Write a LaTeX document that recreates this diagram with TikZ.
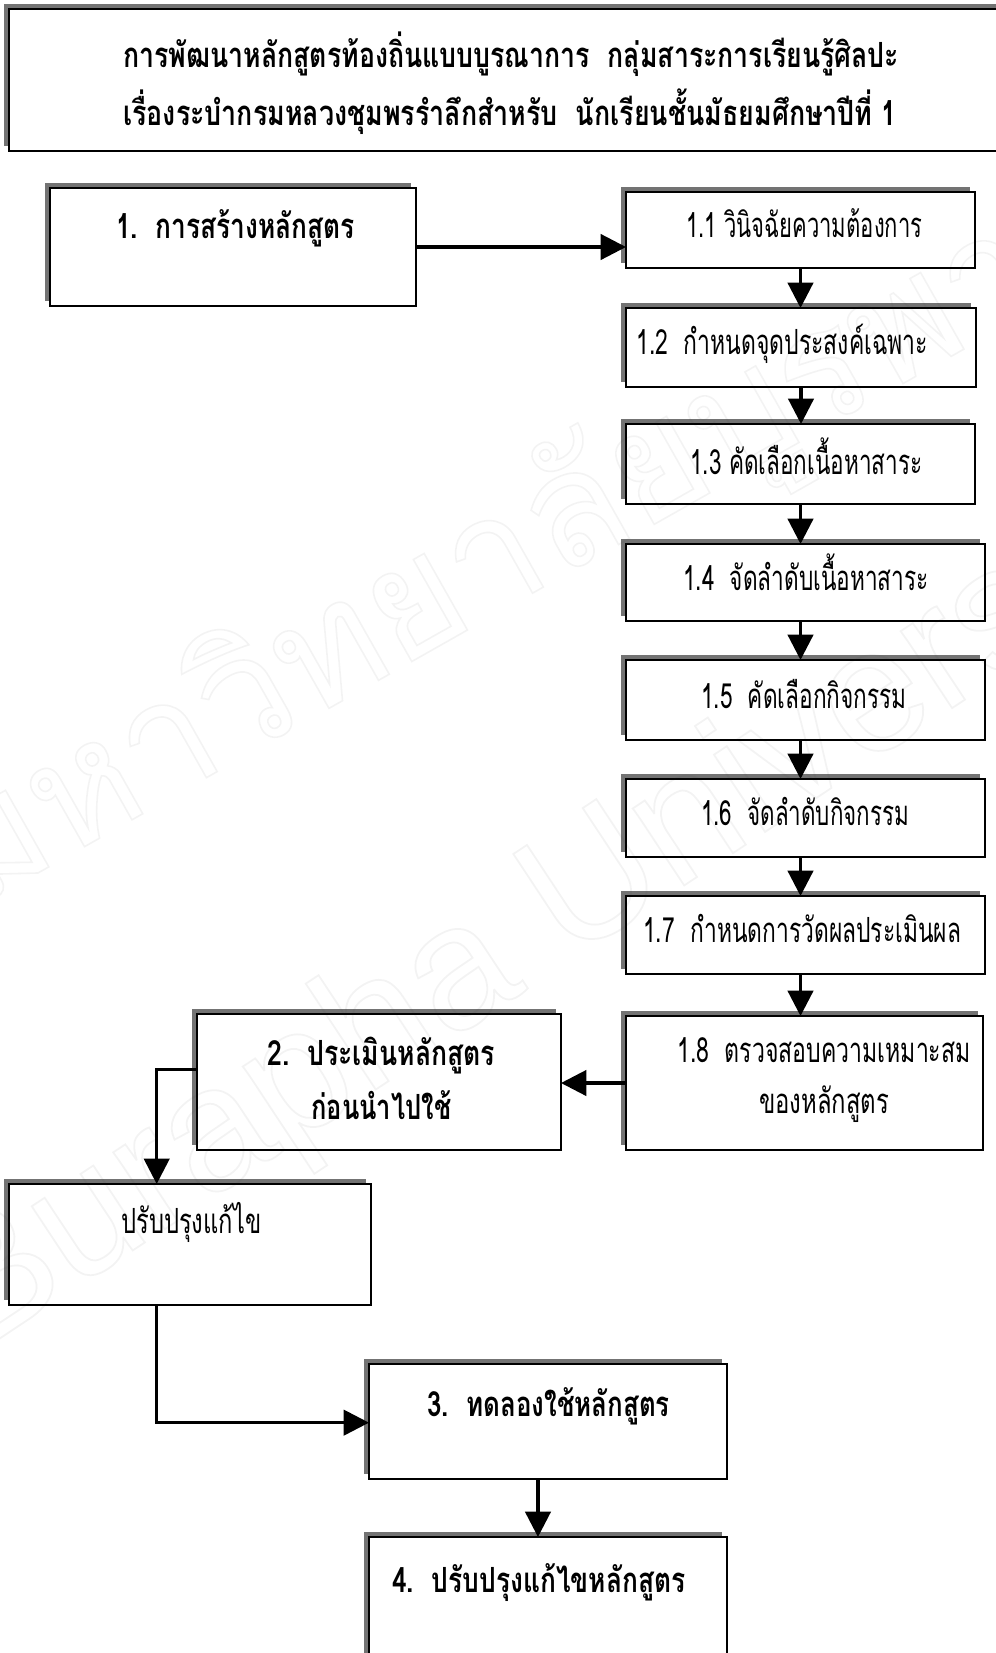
\documentclass[tikz,border=0pt]{standalone}
\usepackage{fontspec}
\usepackage{graphicx}
\usetikzlibrary{arrows.meta,shadows,calc}
\newfontfamily\thai[Script=Thai]{Loma}
\newfontfamily\wmthai[Script=Thai]{Loma}
\newfontfamily\wmlat{Liberation Sans}
\newcommand\tw[2]{\resizebox{#1}{\height}{#2}}
\newcommand\outl[1]{\special{pdf:literal direct 1 Tr 1.0 w 0.15 G}#1\special{pdf:literal direct 0 Tr 0 G}}
\begin{document}
\begin{tikzpicture}[x=0.75pt,y=-0.75pt,
  box/.style={draw, line width=1.3pt, fill=white, inner sep=0pt, outer sep=0pt, anchor=north west,
    drop shadow={shadow xshift=-3.75pt, shadow yshift=3.75pt, fill=black!55, opacity=1}},
  tx/.style={inner sep=0pt, anchor=base west, font=\thai\fontsize{26}{30}\selectfont},
  arr/.style={line width=2.4pt, -{Triangle[length=19pt,width=19pt]}},
  wm/.style={inner sep=0pt, text=black, text opacity=0.05}]
\useasboundingbox (0,0) rectangle (996,1653);
\fill[white] (0,0) rectangle (996,1653);
% boxes
\node[box, minimum width=745.5pt, minimum height=106.5pt] (title) at (9,9) {};
\node[box, minimum width=274.5pt, minimum height=88.5pt] (b1) at (50,188) {};
\node[box, minimum width=261.75pt, minimum height=57pt] (b11) at (626,192) {};
\node[box, minimum width=262.5pt, minimum height=59.25pt] (b12) at (626,308) {};
\node[box, minimum width=261.75pt, minimum height=60pt] (b13) at (626,424) {};
\node[box, minimum width=269.25pt, minimum height=57.75pt] (b14) at (626,544) {};
\node[box, minimum width=269.25pt, minimum height=60pt] (b15) at (626,660) {};
\node[box, minimum width=269.25pt, minimum height=58.5pt] (b16) at (626,779) {};
\node[box, minimum width=269.25pt, minimum height=58.5pt] (b17) at (626,896) {};
\node[box, minimum width=267.75pt, minimum height=100.5pt] (b18) at (626,1016) {};
\node[box, minimum width=273pt, minimum height=102pt] (b2) at (197,1014) {};
\node[box, minimum width=271.5pt, minimum height=90.75pt] (bfix) at (9,1184) {};
\node[box, minimum width=268.5pt, minimum height=86.25pt] (b3) at (369,1364) {};
\node[box, minimum width=268.5pt, minimum height=107.25pt] (b4) at (369,1537) {};
% texts
\node[tx] (t0a) at (123,67) {\tw{582pt}{\bfseries การพัฒนาหลักสูตรท้องถิ่นแบบบูรณาการ~~กลุ่มสาระการเรียนรู้ศิลปะ}};
\node[tx] (t0b) at (123,125) {\tw{580pt}{\bfseries เรื่องระบำกรมหลวงชุมพรรำลึกสำหรับ~~นักเรียนชั้นมัธยมศึกษาปีที่ 1}};
\node[tx] (t1) at (116,238) {\tw{179pt}{\bfseries 1.~~การสร้างหลักสูตร}};
\node[tx] (t11) at (686,237) {\tw{177pt}{1.1 วินิจฉัยความต้องการ}};
\node[tx] (t12) at (636,354) {\tw{219pt}{1.2~~กำหนดจุดประสงค์เฉพาะ}};
\node[tx] (t13) at (690,474) {\tw{174pt}{1.3 คัดเลือกเนื้อหาสาระ}};
\node[tx] (t14) at (683,590) {\tw{184pt}{1.4~~จัดลำดับเนื้อหาสาระ}};
\node[tx] (t15) at (701,708) {\tw{154pt}{1.5~~คัดเลือกกิจกรรม}};
\node[tx] (t16) at (701,825) {\tw{156pt}{1.6~~จัดลำดับกิจกรรม}};
\node[tx] (t17) at (643,942) {\tw{238.5pt}{1.7~~กำหนดการวัดผลประเมินผล}};
\node[tx] (t18a) at (677,1062) {\tw{220pt}{1.8~~ตรวจสอบความเหมาะสม}};
\node[tx] (t18b) at (759,1113) {\tw{97.5pt}{ของหลักสูตร}};
\node[tx] (t2a) at (267,1065) {\tw{171pt}{\bfseries 2.~~ประเมินหลักสูตร}};
\node[tx] (t2b) at (311,1119) {\tw{105pt}{\bfseries ก่อนนำไปใช้}};
\node[tx] (tfix) at (121,1233) {\tw{105pt}{ปรับปรุงแก้ไข}};
\node[tx] (t3) at (427,1416) {\tw{182pt}{\bfseries 3.~~ทดลองใช้หลักสูตร}};
\node[tx] (t4) at (392,1592) {\tw{220pt}{\bfseries 4.~~ปรับปรุงแก้ไขหลักสูตร}};
% connectors
\draw[arr] (b1.east) -- (b1.east -| b11.west);
\draw[arr] (b11.south) -- (b11.south |- b12.north);
\draw[arr] (b12.south) -- (b12.south |- b13.north);
\draw[arr] (b13.south) -- (b13.south |- b14.north);
\draw[arr] (b13.south |- b14.south) -- (b13.south |- b15.north);
\draw[arr] (b13.south |- b15.south) -- (b13.south |- b16.north);
\draw[arr] (b13.south |- b16.south) -- (b13.south |- b17.north);
\draw[arr] (b13.south |- b17.south) -- (b13.south |- b18.north);
\draw[arr] (b18.west) -- (b18.west -| b2.east);
\coordinate (b2out) at ($(b2.north west)!0.41!(b2.south west)$);
\coordinate (fixin) at ($(bfix.north west)!0.408!(bfix.north east)$);
\coordinate (fixout) at ($(bfix.south west)!0.408!(bfix.south east)$);
\coordinate (b3in) at ($(b3.north west)!0.51!(b3.south west)$);
\coordinate (b3out) at ($(b3.south west)!0.472!(b3.south east)$);
\draw[arr] (b2out) -| (fixin);
\draw[arr] (fixout) |- (b3in);
\draw[arr] (b3out) -- (b3out |- b4.north);
% watermark
\node[wm, rotate=29.5] (wm1) at (490,568) {\wmthai\fontsize{100}{110}\selectfont\resizebox{930pt}{!}{\outl{มหาวิทยาลัยบูรพา}}};
\node[wm, rotate=33.5] (wm2) at (568,908) {\wmlat\fontsize{100}{110}\selectfont\resizebox{1110pt}{!}{\outl{Burapha University}}};
\end{tikzpicture}
\end{document}
